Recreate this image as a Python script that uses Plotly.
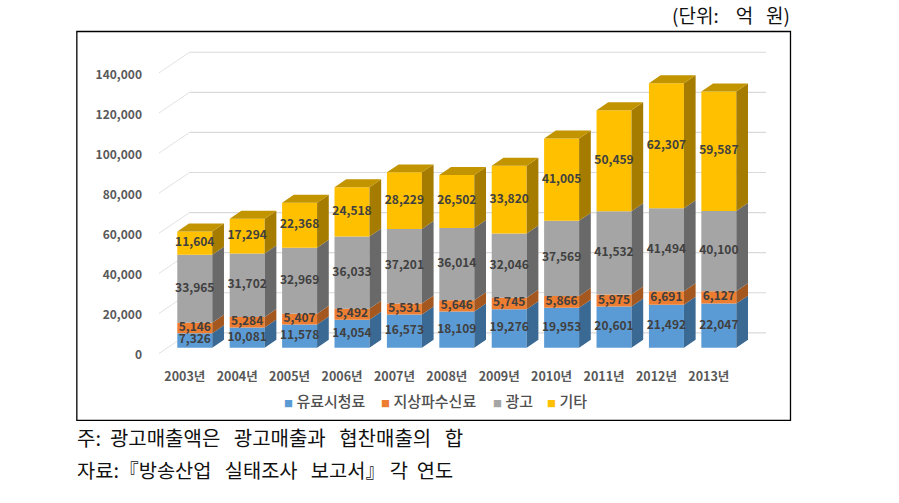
import plotly.graph_objects as go

# ---- data ----
years = ["2003년", "2004년", "2005년", "2006년", "2007년", "2008년", "2009년", "2010년", "2011년", "2012년", "2013년"]
paid = [7326, 10081, 11578, 14054, 16573, 18109, 19276, 19953, 20601, 21492, 22047]
terrestrial = [5146, 5284, 5407, 5492, 5531, 5646, 5745, 5866, 5975, 6691, 6127]
advertising = [33965, 31702, 32969, 36033, 37201, 36014, 32046, 37569, 41532, 41494, 40100]
other = [11604, 17294, 22368, 24518, 28229, 26502, 33820, 41005, 50459, 62307, 59587]
series_names = ["유료시청료", "지상파수신료", "광고", "기타"]
y_ticks = [0, 20000, 40000, 60000, 80000, 100000, 120000, 140000]

# ---- styling / pseudo-3D geometry (in figure pixels and scale factors) ----
W, H = 899, 503
L, R, T, B = 158.7, 770.0, 40.0, 355.5
PX_PER_CAT = 52.43
PX_PER_UNIT = 40.15 / 20000
first_center_px = 194.5
front = ["#5B9BD5", "#ED7D31", "#A5A5A5", "#FFC000"]
side = ["#3A6994", "#A4571F", "#696969", "#A67C00"]
top_color = "#C29400"
FONT = "Noto Sans CJK KR"
x_range = [(L - first_center_px) / PX_PER_CAT, (R - first_center_px) / PX_PER_CAT]
y_range = [0, (B - T) / PX_PER_UNIT]
bar_w = 35 / PX_PER_CAT
bar_dx, bar_dy = 11.7 / PX_PER_CAT, 8 / PX_PER_UNIT
wall_dx, wall_dy = 30.6 / PX_PER_CAT, 20.7 / PX_PER_UNIT
lift = 7.2 / PX_PER_UNIT
grid_shift = 1.5 / PX_PER_UNIT
grid_right = (766 - first_center_px) / PX_PER_CAT
label_shift = 10 / PX_PER_CAT

def px(x):
    return (x - L) / (R - L)

def py(y):
    return (B - y) / (B - T)

idx = list(range(len(years)))
all_series = [paid, terrestrial, advertising, other]

fig = go.Figure()
bases = [lift] * len(years)
label_x, label_y, label_t = [], [], []
side_traces, top_trace = [], None
for s, vals in enumerate(all_series):
    fig.add_trace(go.Bar(x=idx, y=vals, base=bases, width=bar_w, name=series_names[s],
                         marker=dict(color=front[s], line=dict(width=0)), showlegend=False))
    sx, sy, tx, ty = [], [], [], []
    for i, v in enumerate(vals):
        b, t = bases[i], bases[i] + v
        xr = i + bar_w / 2
        xl = i - bar_w / 2
        sx += [xr, xr + bar_dx, xr + bar_dx, xr, xr, None]
        sy += [b, b + bar_dy, t + bar_dy, t, b, None]
        tx += [xl, xl + bar_dx, xr + bar_dx, xr, xl, None]
        ty += [t, t + bar_dy, t + bar_dy, t, t, None]
        label_x.append(i)
        label_y.append(b + v / 2)
        label_t.append(f"{v:,}")
    side_traces.append(go.Scatter(x=sx, y=sy, mode="lines", fill="toself", fillcolor=side[s],
                                  line=dict(width=0), hoverinfo="skip", showlegend=False))
    if s == len(all_series) - 1:
        top_trace = go.Scatter(x=tx, y=ty, mode="lines", fill="toself", fillcolor=top_color,
                               line=dict(width=0), hoverinfo="skip", showlegend=False)
    bases = [b + v for b, v in zip(bases, vals)]
for tr in side_traces:
    fig.add_trace(tr)
fig.add_trace(top_trace)
fig.add_trace(go.Scatter(x=label_x, y=label_y, text=label_t, mode="text", textposition="middle center",
                         textfont=dict(family=FONT, size=12, color="#404040", weight=700),
                         hoverinfo="skip", showlegend=False, cliponaxis=False))

shapes = []
for v in y_ticks:
    g = v + grid_shift
    shapes.append(dict(type="line", layer="below", xref="x", yref="y", x0=x_range[0], y0=g,
                       x1=x_range[0] + wall_dx, y1=g + wall_dy, line=dict(color="#E2E2E2", width=1)))
    shapes.append(dict(type="line", layer="below", xref="x", yref="y", x0=x_range[0] + wall_dx, y0=g + wall_dy,
                       x1=grid_right, y1=g + wall_dy, line=dict(color="#D9D9D9", width=1.2)))
# outer chart frame
shapes.append(dict(type="rect", layer="below", xref="paper", yref="paper", x0=px(76.5), x1=px(790.5),
                   y0=py(421), y1=py(31.5), line=dict(color="#000000", width=1.3)))

annotations = [
    dict(text="(단위:    억   원)", x=px(791), y=py(14.5), xanchor="right", yanchor="middle",
         font=dict(family=FONT, size=19, color="#111111")),
    dict(text="주:  광고매출액은   광고매출과   협찬매출의   합", x=px(76), y=py(438), xanchor="left", yanchor="middle",
         font=dict(family=FONT, size=20, color="#111111")),
    dict(text="자료:『방송산업   실태조사   보고서』 각  연도", x=px(76), y=py(470), xanchor="left", yanchor="middle",
         font=dict(family=FONT, size=19.8, color="#111111")),
]
legend_px = [283, 380, 492, 546]
for s, name in enumerate(series_names):
    annotations.append(dict(text=f'<span style="color:{front[s]};font-size:9px">■</span> {name}',
                            x=px(legend_px[s]), y=py(401), xanchor="left", yanchor="middle",
                            font=dict(family=FONT, size=15, color="#505050", weight=500)))
for a in annotations:
    a.update(xref="paper", yref="paper", showarrow=False, borderpad=0)

fig.update_layout(
    width=W, height=H, margin=dict(l=L, r=W - R, t=T, b=H - B, pad=0, autoexpand=False),
    paper_bgcolor="white", plot_bgcolor="rgba(0,0,0,0)", barmode="overlay", showlegend=False,
    shapes=shapes, annotations=annotations,
    xaxis=dict(range=x_range, tickmode="array", tickvals=[i - label_shift for i in idx], ticktext=years,
               showgrid=False, zeroline=False, showline=False, ticks="", ticklabelstandoff=12,
               tickfont=dict(family=FONT, size=12.5, color="#595959", weight=700)),
    yaxis=dict(range=y_range, tickmode="array", tickvals=y_ticks, ticktext=[f"{v:,}" for v in y_ticks],
               showgrid=False, zeroline=False, showline=False, ticks="", ticklabelstandoff=16,
               tickfont=dict(family=FONT, size=12, color="#595959", weight=700)),
)
fig.write_html("out.html", config=dict(displayModeBar=False), post_script="document.body.style.margin='0';")
